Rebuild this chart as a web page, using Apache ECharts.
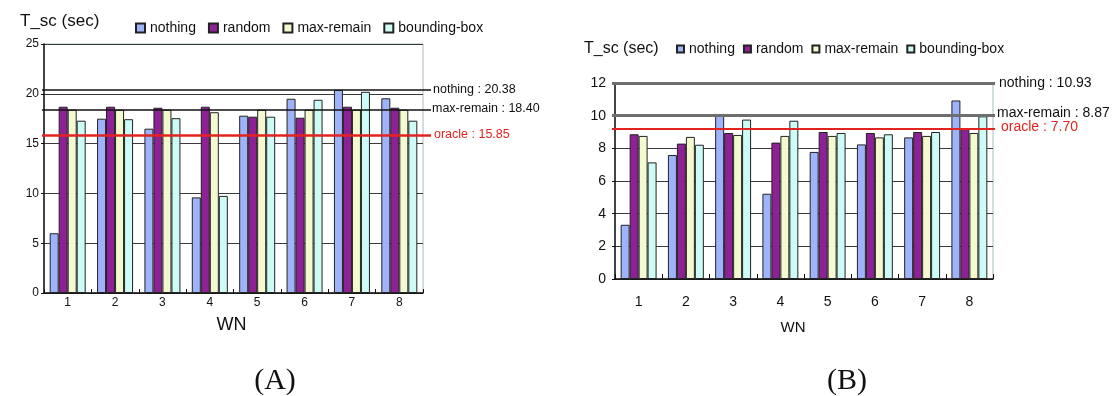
<!DOCTYPE html>
<html>
<head>
<meta charset="utf-8">
<script src="https://cdn.jsdelivr.net/npm/echarts@6/dist/echarts.min.js"></script>
<style>
html,body{margin:0;padding:0;background:#fff;}
#chart{width:1113px;height:396px;}
</style>
</head>
<body>
<div id="chart"></div>
<script>
// ---- data ----
const categories = ['1', '2', '3', '4', '5', '6', '7', '8'];
const seriesNames = ['nothing', 'random', 'max-remain', 'bounding-box'];

// Chart (A)
const nothingA   = [6.0, 17.5, 16.5, 9.6, 17.8, 19.5, 20.38, 19.55];
const randomA    = [18.7, 18.7, 18.6, 18.7, 17.7, 17.6, 18.7, 18.6];
const maxRemainA = [18.4, 18.4, 18.4, 18.15, 18.4, 18.4, 18.4, 18.4];
const bboxA      = [17.3, 17.45, 17.55, 9.75, 17.7, 19.4, 20.2, 17.3];
const refValuesA = [20.38, 18.40, 15.85];
const refLabelsA = ['nothing : 20.38', 'max-remain : 18.40', 'oracle : 15.85'];
const yTicksA = [0, 25, 5]; // min, max, interval

// Chart (B)
const nothingB   = [3.32, 7.59, 10.04, 5.22, 7.78, 8.24, 8.67, 10.93];
const randomB    = [8.86, 8.29, 8.94, 8.35, 9.00, 8.94, 9.00, 9.18];
const maxRemainB = [8.76, 8.70, 8.82, 8.76, 8.76, 8.67, 8.76, 8.94];
const bboxB      = [7.14, 8.22, 9.76, 9.69, 8.94, 8.86, 9.00, 9.96];
// where the annotation lines are drawn in the reference picture
const refValuesB = [12, 10, 9.18];
const refLabelsB = ['nothing : 10.93', 'max-remain : 8.87', 'oracle : 7.70'];
const yTicksB = [0, 12, 2];

const axisTitle = 'T_sc (sec)';
const xName = 'WN';
const captions = ['(A)', '(B)'];

// ---- styles ----
const colors = ['#9fb3fb', '#8e2196', '#f4fad0', '#cdfbf5'];
const SANS = "'Liberation Sans', Arial, sans-serif";
const SERIF = "'Liberation Serif', 'Times New Roman', serif";

function buildRefLines(values, labels, styles, xStart, xEnd, fontSize) {
  return values.map(function (v, i) {
    const s = styles[i];
    return [
      {
        coord: [0, v], x: xStart, name: labels[i],
        lineStyle: { color: s.color, width: s.width, type: 'solid' },
        label: {
          show: true, position: 'end', formatter: '{b}', distance: s.dist,
          color: s.textColor, fontSize: fontSize, fontFamily: SANS,
          offset: [0, s.dy]
        }
      },
      { coord: [categories.length - 1, v], x: xEnd }
    ];
  });
}

const stylesA = [
  { color: '#111', width: 1.5, textColor: '#111', dist: 2, dy: 0 },
  { color: '#111', width: 1.5, textColor: '#111', dist: 1, dy: -1 },
  { color: '#e3231f', width: 2.5, textColor: '#e3231f', dist: 3, dy: -1 }
];
const stylesB = [
  { color: '#6e6e6e', width: 3, textColor: '#111', dist: 4, dy: 0 },
  { color: '#6e6e6e', width: 3, textColor: '#111', dist: 2, dy: -3 },
  { color: '#e3231f', width: 2, textColor: '#e3231f', dist: 6, dy: -2 }
];

function makeSeries(valuesList, gi, markLineData) {
  return valuesList.map(function (vals, i) {
    const s = {
      name: seriesNames[i], type: 'bar', xAxisIndex: gi, yAxisIndex: gi,
      data: vals, barGap: 0, barCategoryGap: '24%',
      itemStyle: { color: colors[i], borderColor: '#222', borderWidth: 1 },
      emphasis: { disabled: true },
      animation: false
    };
    if (i === 0) {
      s.markLine = {
        silent: true, symbol: 'none', animation: false, z: 5,
        data: markLineData
      };
    }
    return s;
  });
}

const seriesA = makeSeries([nothingA, randomA, maxRemainA, bboxA], 0,
  buildRefLines(refValuesA, refLabelsA, stylesA, 42, 431, 12.5));
const seriesB = makeSeries([nothingB, randomB, maxRemainB, bboxB], 1,
  buildRefLines(refValuesB, refLabelsB, stylesB, 612, 995, 14));

const chart = echarts.init(document.getElementById('chart'), null, { renderer: 'canvas' });

chart.setOption({
  animation: false,
  backgroundColor: '#fff',
  grid: [
    { left: 44, right: 690, top: 44, bottom: 103, show: true, borderColor: '#a9bac2', borderWidth: 1, backgroundColor: 'transparent' },
    { left: 615, right: 120, top: 83, bottom: 117, show: true, borderColor: '#a9bac2', borderWidth: 1, backgroundColor: 'transparent' }
  ],
  legend: [
    {
      data: seriesNames, left: 135, top: 21, padding: 0, itemWidth: 9, itemHeight: 9, itemGap: 12,
      icon: 'rect', selectedMode: false,
      textStyle: { fontSize: 14, fontFamily: SANS, color: '#111' }
    },
    {
      data: seriesNames, left: 676, top: 42, padding: 0, itemWidth: 7, itemHeight: 7, itemGap: 8,
      icon: 'rect', selectedMode: false,
      textStyle: { fontSize: 14, fontFamily: SANS, color: '#111' }
    }
  ],
  xAxis: [
    {
      type: 'category', gridIndex: 0, data: categories,
      axisLine: { lineStyle: { color: '#111', width: 1.5 } },
      axisTick: { show: true, inside: true, length: 4, lineStyle: { color: '#111' } },
      axisLabel: { fontSize: 12, fontFamily: SANS, color: '#111', margin: 4 },
      name: xName, nameLocation: 'middle', nameGap: 23,
      nameTextStyle: { fontSize: 18, fontFamily: SANS, color: '#111', padding: [0, 4, 0, 0] }
    },
    {
      type: 'category', gridIndex: 1, data: categories,
      axisLine: { lineStyle: { color: '#111', width: 1.5 } },
      axisTick: { show: true, inside: true, length: 5, lineStyle: { color: '#111' } },
      axisLabel: { fontSize: 14, fontFamily: SANS, color: '#111', margin: 16 },
      name: xName, nameLocation: 'middle', nameGap: 41,
      nameTextStyle: { fontSize: 15, fontFamily: SANS, color: '#111', padding: [0, 22, 0, 0] }
    }
  ],
  yAxis: [
    {
      type: 'value', gridIndex: 0, min: yTicksA[0], max: yTicksA[1], interval: yTicksA[2],
      axisLine: { show: true, lineStyle: { color: '#111', width: 1.5 } },
      axisTick: { show: true, length: 3, lineStyle: { color: '#111' } },
      axisLabel: { fontSize: 12, fontFamily: SANS, color: '#111', margin: 5 },
      splitLine: { show: true, lineStyle: { color: '#3a3a3a', width: 1 } }
    },
    {
      type: 'value', gridIndex: 1, min: yTicksB[0], max: yTicksB[1], interval: yTicksB[2],
      axisLine: { show: true, lineStyle: { color: '#111', width: 1.5 } },
      axisTick: { show: true, length: 3, lineStyle: { color: '#111' } },
      axisLabel: { fontSize: 14, fontFamily: SANS, color: '#111', margin: 9 },
      splitLine: { show: true, lineStyle: { color: '#3a3a3a', width: 1 } }
    }
  ],
  graphic: [
    { type: 'text', left: 20, top: 13, style: { text: axisTitle, fontSize: 17, fontFamily: SANS, fill: '#111' } },
    { type: 'text', left: 584, top: 41, style: { text: axisTitle, fontSize: 16, fontFamily: SANS, fill: '#111' } },
    { type: 'text', x: 275, y: 381, style: { text: captions[0], fontSize: 30, fontFamily: SERIF, fill: '#111', align: 'center', verticalAlign: 'middle' } },
    { type: 'text', x: 847, y: 381, style: { text: captions[1], fontSize: 30, fontFamily: SERIF, fill: '#111', align: 'center', verticalAlign: 'middle' } }
  ],
  series: seriesA.concat(seriesB)
});
</script>
</body>
</html>
